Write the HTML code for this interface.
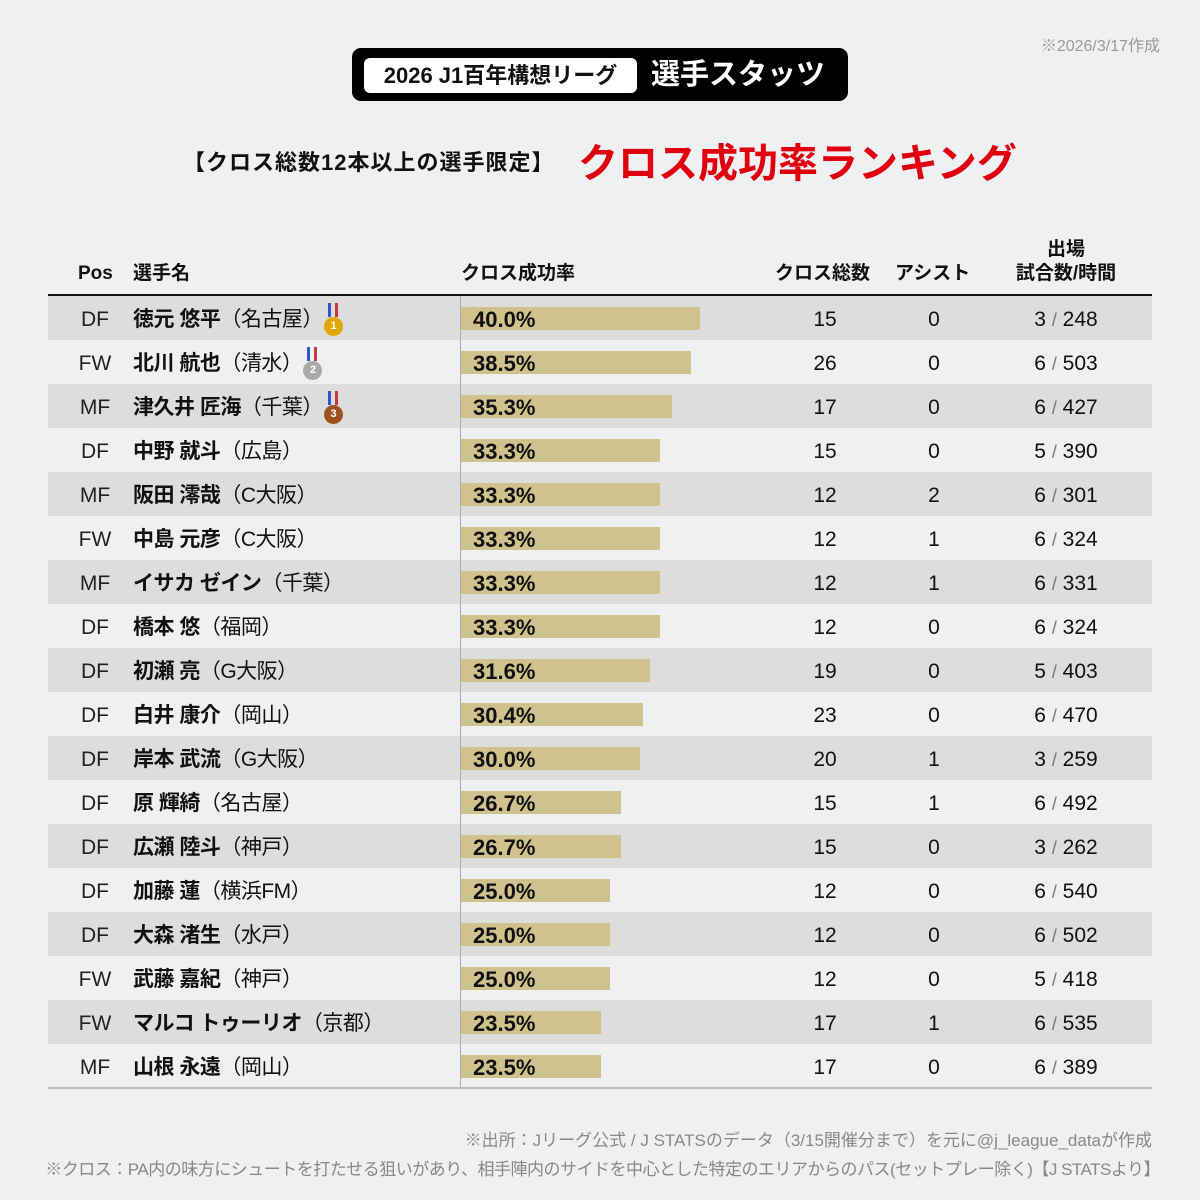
<!DOCTYPE html>
<html><head><meta charset="utf-8"><style>
*{margin:0;padding:0;box-sizing:border-box}
body{width:1200px;height:1200px;background:#eff0f2;font-family:"Liberation Sans","Noto Sans CJK JP",sans-serif;color:#111;position:relative;overflow:hidden}
.abs{position:absolute;white-space:nowrap}
.hd{font-weight:bold;font-size:19px;line-height:24px;top:262px}
.row{position:absolute;left:48px;width:1104px;height:44px}
.row div{position:absolute;top:2px;height:44px;line-height:44px;font-size:21px}
.pos{left:20px;width:54px;text-align:center;color:#222}
.nm{left:85px;font-weight:bold;letter-spacing:-0.5px}
.nm span{font-weight:normal}
.bar{left:413px;top:11px!important;height:23px!important;background:#cfc28c}
.pct{left:425px;font-weight:bold;font-size:22px!important}
.ct{left:737px;width:80px;text-align:center}
.as{left:846px;width:80px;text-align:center}
.gm{left:960px;width:116px;text-align:center}
.gm i{font-style:normal;color:#777;font-size:18px}
.medal{display:inline-block;position:relative;width:20px;height:34px;vertical-align:middle;margin-left:0px}
.medal b{position:absolute;left:1px;top:14px;width:19px;height:19px;border-radius:50%;color:#fff;font-size:11px;line-height:19px;text-align:center}
.medal u{position:absolute;left:5px;top:0;width:10px;height:14px;border-left:3px solid #3355cc;border-right:3px solid #cc3344;text-decoration:none}
</style></head><body>
<div class="abs" style="right:40px;top:32px;font-size:16px;color:#999">※2026/3/17作成</div>
<div class="abs" style="left:352px;top:48px;width:496px;height:53px;background:#000;border-radius:9px"></div>
<div class="abs" style="left:364px;top:58px;width:273px;height:35px;background:#fff;border-radius:6px;font-weight:bold;font-size:22px;line-height:35px;text-align:center">2026 J1百年構想リーグ</div>
<div class="abs" style="left:651px;top:56px;color:#fff;font-weight:bold;font-size:29px;line-height:38px">選手スタッツ</div>
<div class="abs" style="left:183px;top:147px;font-weight:bold;font-size:22px;line-height:32px;letter-spacing:1px">【クロス総数12本以上の選手限定】</div>
<div class="abs" style="left:578px;top:138px;font-weight:bold;font-size:40px;line-height:52px;color:#e0000f">クロス成功率ランキング</div>
<div class="abs hd" style="left:78px">Pos</div>
<div class="abs hd" style="left:133px">選手名</div>
<div class="abs hd" style="left:461px">クロス成功率</div>
<div class="abs hd" style="left:775px">クロス総数</div>
<div class="abs hd" style="left:895px">アシスト</div>
<div class="abs" style="left:1008px;top:238px;width:116px;text-align:center;font-weight:bold;font-size:19px;line-height:24px">出場<br>試合数/時間</div>
<div class="abs" style="left:48px;top:294px;width:1104px;height:2px;background:#111"></div>
<div id="rows"></div>
<div class="abs" style="left:460px;top:296px;width:1px;height:792px;background:#aaa"></div>
<div class="abs" style="left:48px;top:1087px;width:1104px;height:2px;background:#bbb"></div>
<div class="abs" style="right:48px;top:1126px;font-size:17px;color:#888">※出所：Jリーグ公式 / J STATSのデータ（3/15開催分まで）を元に@j_league_dataが作成</div>
<div class="abs" style="right:40px;top:1155px;font-size:17px;color:#888;letter-spacing:-0.5px">※クロス：PA内の味方にシュートを打たせる狙いがあり、相手陣内のサイドを中心とした特定のエリアからのパス(セットプレー除く)【J STATSより】</div>
<script>
var d=[["DF","徳元 悠平","名古屋",40.0,15,0,3,248,1],["FW","北川 航也","清水",38.5,26,0,6,503,2],["MF","津久井 匠海","千葉",35.3,17,0,6,427,3],["DF","中野 就斗","広島",33.3,15,0,5,390],["MF","阪田 澪哉","C大阪",33.3,12,2,6,301],["FW","中島 元彦","C大阪",33.3,12,1,6,324],["MF","イサカ ゼイン","千葉",33.3,12,1,6,331],["DF","橋本 悠","福岡",33.3,12,0,6,324],["DF","初瀬 亮","G大阪",31.6,19,0,5,403],["DF","白井 康介","岡山",30.4,23,0,6,470],["DF","岸本 武流","G大阪",30.0,20,1,3,259],["DF","原 輝綺","名古屋",26.7,15,1,6,492],["DF","広瀬 陸斗","神戸",26.7,15,0,3,262],["DF","加藤 蓮","横浜FM",25.0,12,0,6,540],["DF","大森 渚生","水戸",25.0,12,0,6,502],["FW","武藤 嘉紀","神戸",25.0,12,0,5,418],["FW","マルコ トゥーリオ","京都",23.5,17,1,6,535],["MF","山根 永遠","岡山",23.5,17,0,6,389]];
var mc=["","#e0a800","#a9a9a9","#a0501e"],h="";
d.forEach(function(r,i){var m=r[8]?'<span class="medal"><u></u><b style="background:'+mc[r[8]]+'">'+r[8]+'</b></span>':'';
h+='<div class="row" style="top:'+(296+i*44)+'px;background:'+(i%2?'#eff0f2':'#dddddd')+'"><div class="pos">'+r[0]+'</div><div class="nm">'+r[1]+'<span>（'+r[2]+'）</span>'+m+'</div><div class="bar" style="width:'+(r[3]*5.975).toFixed(0)+'px"></div><div class="pct">'+r[3].toFixed(1)+'%</div><div class="ct">'+r[4]+'</div><div class="as">'+r[5]+'</div><div class="gm">'+r[6]+' <i>/</i> '+r[7]+'</div></div>';});
document.getElementById("rows").innerHTML=h;
</script>
</body></html>
